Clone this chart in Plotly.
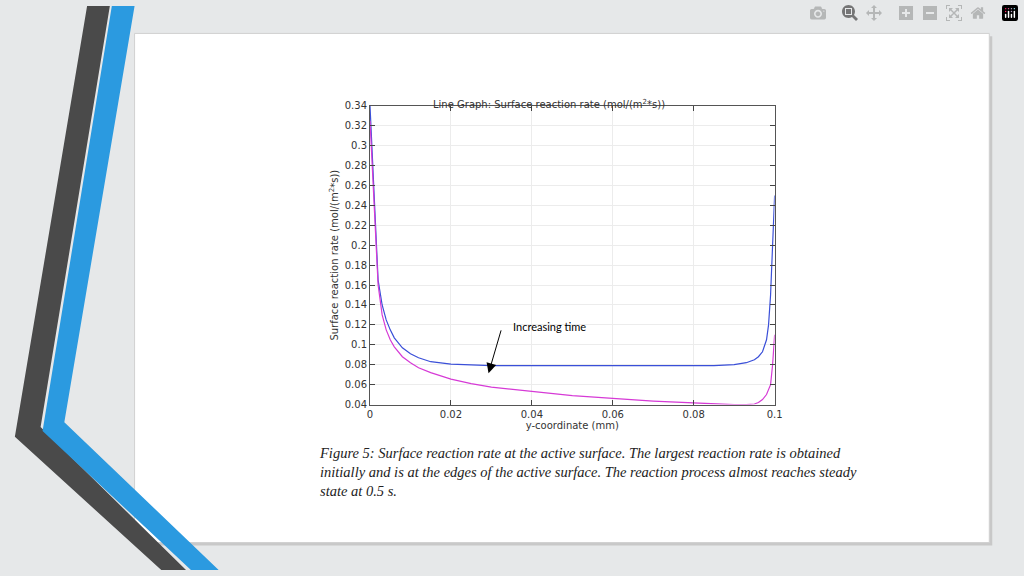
import plotly.graph_objects as go

x_blue = [0, 0.001, 0.002, 0.003, 0.004, 0.005, 0.006, 0.008, 0.01, 0.012, 0.015, 0.02, 0.025, 0.03, 0.05, 0.07, 0.085, 0.09, 0.093, 0.095, 0.096, 0.097, 0.098, 0.0985, 0.099, 0.0995, 0.1]
y_blue = [0.34, 0.25, 0.165, 0.14, 0.125, 0.115, 0.107, 0.097, 0.091, 0.087, 0.083, 0.0805, 0.0795, 0.079, 0.079, 0.079, 0.079, 0.08, 0.082, 0.085, 0.088, 0.093, 0.105, 0.12, 0.15, 0.2, 0.25]
x_mag = [0, 0.001, 0.002, 0.003, 0.004, 0.005, 0.006, 0.008, 0.01, 0.012, 0.015, 0.02, 0.025, 0.03, 0.05, 0.07, 0.085, 0.09, 0.093, 0.095, 0.096, 0.097, 0.098, 0.0985, 0.099, 0.0995, 0.1]
y_mag = [0.325, 0.24, 0.16, 0.13, 0.115, 0.105, 0.098, 0.088, 0.082, 0.077, 0.072, 0.0655, 0.061, 0.0575, 0.049, 0.0435, 0.0405, 0.0398, 0.0398, 0.0405, 0.042, 0.045, 0.05, 0.055, 0.06, 0.08, 0.11]
y_ticks = [0.04, 0.06, 0.08, 0.1, 0.12, 0.14, 0.16, 0.18, 0.2, 0.22, 0.24, 0.26, 0.28, 0.3, 0.32, 0.34]
x_ticks = [0, 0.02, 0.04, 0.06, 0.08, 0.1]
caption = ("Figure 5: Surface reaction rate at the active surface. The largest reaction rate is obtained<br>"
           "initially and is at the edges of the active surface. The reaction process almost reaches steady<br>"
           "state at 0.5 s.")

W, H = 1024, 576
def px(x): return x / W
def py(y): return 1 - y / H
def path(pts):
    return "M " + " L ".join(f"{px(a)},{py(b)}" for a, b in pts) + " Z"

fig = go.Figure()
fig.add_trace(go.Scatter(x=x_blue, y=y_blue, mode="lines", line=dict(color="#3a4fd8", width=1.2), showlegend=False))
fig.add_trace(go.Scatter(x=x_mag, y=y_mag, mode="lines", line=dict(color="#d63ad6", width=1.2), showlegend=False))

shapes = [
    dict(type="rect", xref="paper", yref="paper", x0=px(136), x1=px(1000), y0=py(551), y1=py(31),
         fillcolor="#c8c8c8", line=dict(width=0), layer="below"),
    dict(type="rect", xref="paper", yref="paper", x0=px(133), x1=px(997), y0=py(548), y1=py(28),
         fillcolor="white", line=dict(color="#d0d0d0", width=1), layer="below"),
    dict(type="path", xref="paper", yref="paper", path=path([(85, 0), (108, 0), (38, 430), (185, 576), (160, 576), (12, 440)]),
         fillcolor="#4a4a4a", line=dict(width=0), layer="below"),
    dict(type="path", xref="paper", yref="paper", path=path([(110, 0), (133, 0), (62, 425), (218, 576), (190, 576), (40, 434)]),
         fillcolor="#2b9ae0", line=dict(width=0), layer="below"),
]

fig.add_annotation(x=0.0293, y=0.0715, ax=0.0325, ay=0.116, xref="x", yref="y", axref="x", ayref="y",
                   showarrow=True, arrowhead=2, arrowsize=2, arrowwidth=1, arrowcolor="black", text="")
fig.add_annotation(x=0.0348, y=0.1185, xref="x", yref="y", xanchor="left", showarrow=False,
                   text="Increasing time", font=dict(family="Lato", size=11, color="black"))
fig.add_annotation(x=px(552), y=py(92), xref="paper", yref="paper", showarrow=False,
                   text="Line Graph: Surface reaction rate (mol/(m<sup>2</sup>*s))", font=dict(family="DejaVu Sans", size=10, color="#333"))
fig.add_annotation(x=px(317), y=py(446), xref="paper", yref="paper", xanchor="left", yanchor="top", align="left",
                   showarrow=False, text=caption,
                   font=dict(family="Liberation Serif", size=14.5, color="#222", style="italic"))

fig.update_layout(
    width=W, height=H, margin=dict(l=0, r=0, t=0, b=0),
    paper_bgcolor="#e6e8e9", plot_bgcolor="white", shapes=shapes,
    font=dict(family="DejaVu Sans", size=10, color="#333"),
    xaxis=dict(domain=[px(371), px(780)], range=[0, 0.1], tickvals=x_ticks, ticktext=["0", "0.02", "0.04", "0.06", "0.08", "0.1"],
               showgrid=True, gridcolor="#ececec", ticks="inside", mirror="ticks", showline=True, linecolor="#555",
               zeroline=False, title=dict(text="y-coordinate (mm)", standoff=0, font=dict(size=10))),
    yaxis=dict(domain=[py(407), py(102)], range=[0.04, 0.34], tickvals=y_ticks,
               ticktext=[f"{v:g}" for v in y_ticks], showgrid=True, gridcolor="#ececec", ticks="inside",
               mirror="ticks", showline=True, linecolor="#555", zeroline=False,
               title=dict(text="Surface reaction rate (mol/(m<sup>2</sup>*s))", standoff=4, font=dict(size=10))),
)
fig.write_html("out.html")
with open("out.html", encoding="utf-8") as f:
    html = f.read()
html = html.replace("<body>", '<body style="margin:0;overflow:hidden">', 1)
with open("out.html", "w", encoding="utf-8") as f:
    f.write(html)
